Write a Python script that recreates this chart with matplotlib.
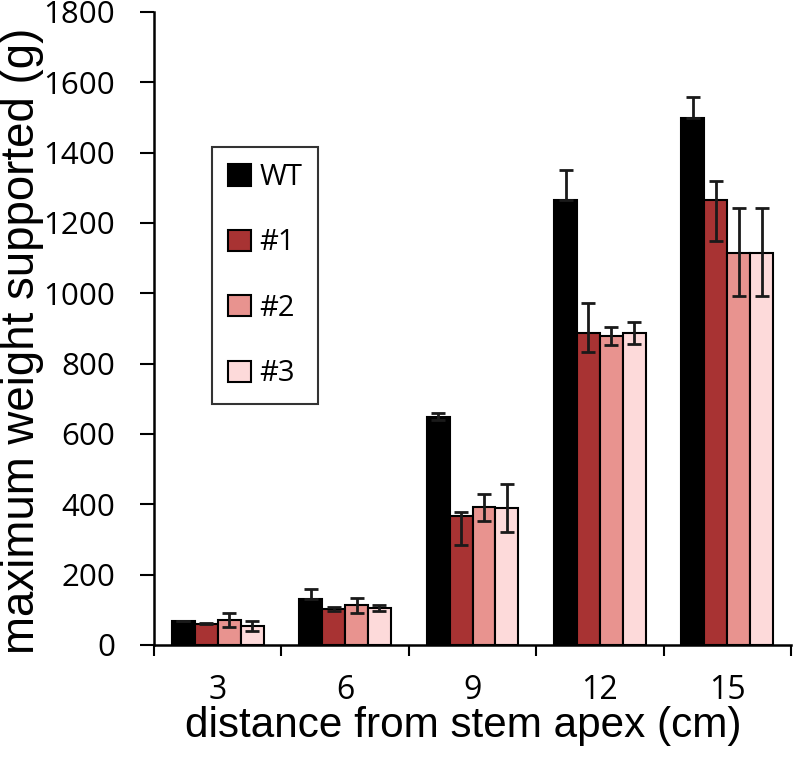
import matplotlib
matplotlib.use("Agg")
import matplotlib.pyplot as plt
import numpy as np

categories = ["3", "6", "9", "12", "15"]
series = ["WT", "#1", "#2", "#3"]
values = {
    "WT": [68, 131, 649, 1266, 1499],
    "#1": [61, 102, 367, 888, 1266],
    "#2": [70, 114, 392, 880, 1116],
    "#3": [53, 106, 390, 888, 1116],
}
err_low = {
    "WT": [0, 0, 8, 0, 0],
    "#1": [2, 6, 83, 54, 117],
    "#2": [20, 22, 38, 27, 125],
    "#3": [12, 8, 70, 32, 125],
}
err_high = {
    "WT": [0, 28, 10, 85, 60],
    "#1": [2, 6, 11, 85, 54],
    "#2": [22, 20, 38, 25, 127],
    "#3": [16, 8, 68, 31, 127],
}
colors = {"WT": "#000000", "#1": "#a83333", "#2": "#e8938f", "#3": "#fddada"}
yticks = [0, 200, 400, 600, 800, 1000, 1200, 1400, 1600, 1800]

W, H = 797, 761
fig = plt.figure(figsize=(W/100, H/100), dpi=100)
ax = fig.add_axes([154/W, (H-645)/H, (791-154)/W, (645-12)/H])

x = np.arange(len(categories))
w = 0.18
for i, s in enumerate(series):
    pos = x + (i - 1.5) * w
    ax.bar(pos, values[s], width=w, color=colors[s], edgecolor="black",
           linewidth=1.5, label=s, zorder=2)
    ax.errorbar(pos, values[s], yerr=[err_low[s], err_high[s]], fmt="none",
                ecolor="#1a1a1a", elinewidth=2, capsize=5, capthick=2, zorder=3)

ax.set_xlim(-0.5, len(categories) - 0.5)
ax.set_ylim(0, 1800)
ax.set_yticks(yticks)
ax.set_yticklabels([str(t) for t in yticks], family="Open Sans", fontsize=22.5)
ax.set_xticks(np.arange(-0.5, len(categories), 1.0))
ax.set_xticklabels([])
ax.set_xticks(x, minor=True)
ax.set_xticklabels(categories, minor=True, family="Open Sans", fontsize=23)
ax.tick_params(axis="x", which="minor", length=0, pad=21)
ax.tick_params(axis="x", which="major", length=8, width=1.5, direction="out")
ax.tick_params(axis="y", length=10, width=1.5, direction="out", pad=18)
for sp in ["top", "right"]:
    ax.spines[sp].set_visible(False)
for sp in ["left", "bottom"]:
    ax.spines[sp].set_linewidth(1.8)

fig.text(463/W, 1 - 726/H, "distance from stem apex (cm)", family="Liberation Sans",
         fontsize=30.4, ha="center", va="center")
fig.text(22/W, 1 - 341/H, "maximum weight supported (g)", family="Liberation Sans",
         fontsize=32.9, ha="center", va="center", rotation=90)

leg = ax.legend(loc="upper left", bbox_to_anchor=((212-154)/637, (645-147)/633),
                borderaxespad=0, prop={"family": "Open Sans", "size": 21},
                handlelength=0.78, handleheight=0.75, handletextpad=0.3,
                labelspacing=1.25, borderpad=0.55, fancybox=False,
                edgecolor="#333333", framealpha=1)
leg.get_frame().set_linewidth(1.5)

fig.savefig("out.png", dpi=100)
